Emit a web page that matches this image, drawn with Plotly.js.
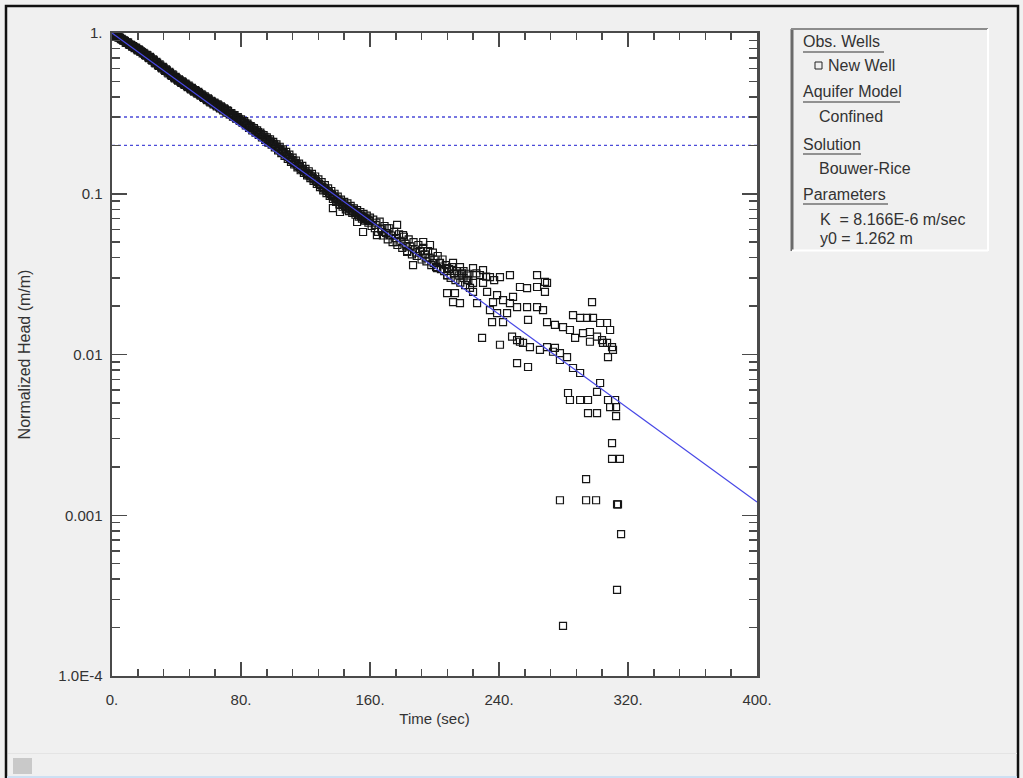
<!DOCTYPE html>
<html>
<head>
<meta charset="utf-8">
<script src="https://cdn.plot.ly/plotly-3.0.1.min.js"></script>
<style>
  html, body { margin: 0; padding: 0; background: #f0f0f0; }
  #chart { width: 1023px; height: 778px; }
</style>
</head>
<body>
<div id="chart"></div>
<script>
// ---------- data ----------
// dense early record (time in sec, normalized head)
const bandTime = [
  0,1,2,3,4,5,6,7,8,9,10,11,12,13,14,15,16,17,18,19,20,
  21,22,23,24,25,26,27,28,29,30,31,32,33,34,35,36,37,38,39,40,
  41,42,43,44,45,46,47,48,49,50,51,52,53,54,55,56,57,58,59,60,
  61,62,63,64,65,66,67,68,69,70,71,72,73,74,75,76,77,78,79,80,
  81,82,83,84,85,86,87,88,89,90,91,92,93,94,95,96,97,98,99,100,
  101,102,103,104,105,106,107,108,109,110,111,112,113,114,115,116,117,118,119,120,
  121,122,123,124,125,126,127,128,129,130,131,132,133,134,135,136,137,138,139,140,
  141,142,143,144,145,146,147,148,149,150,151,152,153,154,155,156,157,158,159,160,
  161,162,163,164,165,166,167,168,169,170,171,172,173,174,175,176,177,178,179,180,
  181,182,183,184,185,186,187,188,189,190,191,192,193,194,195,196,197,198,199,200,201,202,203,204,205,
  206,207,208,209,210,211,212,213,214,215,216,217,218,219,220,221,222
];
const bandHead = [
  1.00,0.99,0.962,0.965,0.935,0.934,0.918,0.895,0.892,0.868,0.87,0.842,0.84,0.828,0.805,0.808,0.78,0.783,0.768,0.746,0.745,
  0.722,0.725,0.698,0.70,0.672,0.675,0.648,0.652,0.625,0.628,0.602,0.606,0.582,0.585,0.56,0.565,0.54,0.545,0.522,0.525,
  0.505,0.508,0.49,0.493,0.475,0.478,0.46,0.462,0.446,0.448,0.432,0.436,0.42,0.423,0.407,0.41,0.395,0.397,0.382,0.386,
  0.37,0.374,0.36,0.364,0.35,0.355,0.34,0.345,0.33,0.335,0.32,0.327,0.312,0.318,0.302,0.309,0.293,0.30,0.286,0.29,
  0.276,0.283,0.266,0.273,0.257,0.264,0.248,0.256,0.24,0.248,0.232,0.24,0.224,0.232,0.216,0.224,0.208,0.218,0.202,0.21,
  0.194,0.203,0.186,0.196,0.179,0.189,0.172,0.182,0.165,0.175,0.158,0.168,0.152,0.161,0.146,0.154,0.14,0.149,0.135,0.143,
  0.13,0.138,0.125,0.133,0.12,0.128,0.115,0.123,0.11,0.118,0.105,0.113,0.101,0.108,0.097,0.104,0.093,0.10,0.089,0.096,
  0.086,0.092,0.083,0.089,0.08,0.087,0.078,0.084,0.076,0.081,0.074,0.079,0.072,0.077,0.07,0.075,0.068,0.073,0.066,0.071,
  0.063,0.069,0.061,0.066,0.058,0.067,0.06,0.055,0.063,0.057,0.052,0.061,0.055,0.05,0.058,0.053,0.048,0.056,0.051,0.046,
  0.054,0.049,0.044,0.052,0.047,0.042,0.05,0.045,0.041,0.048,0.044,0.039,0.046,0.042,0.038,0.044,0.04,0.036,0.043,0.039,0.035,0.041,0.037,0.034,0.039,
  0.033,0.036,0.031,0.034,0.030,0.035,0.032,0.029,0.033,0.031,0.028,0.032,0.030,0.027,0.031,0.029,0.026
];
// readings taken between the whole seconds, and off-trend readings of the band
const halfTime = [
  0.5,1.5,2.5,3.5,4.5,5.5,6.5,7.5,8.5,9.5,10.5,11.5,12.5,13.5,14.5,15.5,16.5,17.5,18.5,19.5,
  20.5,21.5,22.5,23.5,24.5,25.5,26.5,27.5,28.5,29.5,30.5,31.5,32.5,33.5,34.5,35.5,36.5,37.5,38.5,39.5,
  40.5,41.5,42.5,43.5,44.5,45.5,46.5,47.5,48.5,49.5,50.5,51.5,52.5,53.5,54.5,55.5,56.5,57.5,58.5,59.5,
  60.5,61.5,62.5,63.5,64.5,65.5,66.5,67.5,68.5,69.5,70.5,71.5,72.5,73.5,74.5,75.5,76.5,77.5,78.5,79.5,
  80.5,81.5,82.5,83.5,84.5,85.5,86.5,87.5,88.5,89.5,90.5,91.5,92.5,93.5,94.5,95.5,96.5,97.5,98.5,99.5,
  100.5,101.5,102.5,103.5,104.5,105.5,106.5,107.5,108.5,109.5,110.5,111.5,112.5,113.5,114.5,115.5,116.5,117.5,118.5,119.5,
  120.5,121.5,122.5,123.5,124.5,125.5,126.5,127.5,128.5,129.5,130.5,131.5,132.5,133.5,134.5,135.5,136.5,137.5,138.5,139.5,
  140.5,141.5,142.5,143.5,144.5,145.5,146.5,147.5,148.5,149.5,150.5,151.5,152.5,153.5,154.5,155.5,156.5,157.5,158.5,159.5,
  163.5,167.5,171.5,176.5,182.5,188.5,194.5,199.5,
  137,141.4,152,155.7,164.3,170.6,176.8,180.5,183,186.7,197.2,193,201.6,207.8,
  218,221,226,232,237
];
const halfHead = [
  0.985,0.978,0.958,0.946,0.94,0.915,0.905,0.9,0.872,0.875,0.85,0.848,0.822,0.82,0.81,0.79,0.792,0.765,0.762,0.752,
  0.73,0.73,0.705,0.71,0.68,0.685,0.655,0.662,0.632,0.638,0.61,0.615,0.59,0.594,0.568,0.574,0.548,0.554,0.53,0.534,
  0.512,0.514,0.497,0.5,0.482,0.484,0.467,0.47,0.452,0.456,0.438,0.441,0.426,0.43,0.413,0.416,0.4,0.404,0.388,0.392,
  0.376,0.379,0.366,0.369,0.356,0.36,0.346,0.35,0.336,0.34,0.327,0.33,0.318,0.313,0.31,0.304,0.3,0.295,0.292,0.284,
  0.282,0.278,0.274,0.268,0.266,0.26,0.258,0.25,0.25,0.243,0.242,0.235,0.234,0.227,0.226,0.219,0.218,0.212,0.21,0.205,
  0.203,0.197,0.195,0.19,0.187,0.183,0.18,0.176,0.173,0.169,0.166,0.162,0.16,0.155,0.153,0.149,0.147,0.143,0.141,0.138,
  0.135,0.133,0.13,0.128,0.125,0.123,0.12,0.118,0.115,0.113,0.11,0.108,0.106,0.104,0.102,0.0995,0.098,0.096,0.094,0.092,
  0.0905,0.089,0.087,0.086,0.084,0.083,0.082,0.081,0.0795,0.078,0.077,0.076,0.0745,0.0735,0.0725,0.0715,0.0705,0.0695,0.0685,0.0675,
  0.064,0.058,0.056,0.05,0.047,0.043,0.04,0.037,
  0.0815,0.077,0.0667,0.0578,0.0553,0.0612,0.064,0.0553,0.0434,0.036,0.048,0.0501,0.0345,0.0312,
  0.033,0.0318,0.032,0.0305,0.029
];
// late, scattered record
const spreadTime = [
  203.4,211.5,215.8,207.8,223.9,228.2,230.1,234.4,240.6,246.8,263.6,253,257.4,263.6,269.8,220.2,223.9,230.1,
  207.8,212.7,211.5,215.8,226.4,223.9,232.6,238.8,236.3,242.5,246.8,248.7,234.4,238.8,245,251.2,257.4,263.6,267.3,
  235.7,242.5,258,269.8,229.5,240.6,248.1,251.2,254.9,259.2,265.4,
  268.5,268.5,297.7,285.9,290.3,294.6,298.3,302.7,307,308.9,274.7,279.7,284,287.2,292.1,296.4,300.8,303.9,307,
  310.1,310.7,307.6,269.8,273.5,277.8,282.2,
  251.2,258,253,274.7,277.8,285.9,290.3,296.4,304.5,302.7,300.8,282.8,284,290.3,295.2,307.6,312,308.9,312.6,
  295.2,300.8,312.6,310.1,310.1,315,294,277.8,294,300.2,313.2,313.8,315.7,313.2,279.7
];
const spreadHead = [
  0.0371,0.0371,0.035,0.0345,0.0345,0.0312,0.0335,0.0303,0.0303,0.0312,0.0312,0.0263,0.0259,0.0263,0.0279,0.0291,0.0279,0.0279,
  0.0241,0.0241,0.0212,0.0209,0.0209,0.0245,0.0245,0.0234,0.0212,0.0218,0.0209,0.0228,0.0189,0.0181,0.0181,0.0197,0.0197,0.0197,0.0189,
  0.0159,0.0159,0.0164,0.0159,0.0127,0.0115,0.0129,0.0123,0.0118,0.0111,0.0107,
  0.0283,0.0245,0.0212,0.0176,0.0169,0.0169,0.0169,0.0157,0.0157,0.0142,0.0153,0.0148,0.0142,0.0127,0.0136,0.0138,0.0129,0.0123,0.0118,
  0.0111,0.0107,0.00964,0.0111,0.0104,0.0102,0.00964,
  0.00885,0.00836,0.012,0.011,0.00924,0.00824,0.00767,0.012,0.0118,0.00665,0.00585,0.00576,0.00521,0.00521,0.00521,0.00521,0.00521,0.00471,0.00471,
  0.00432,0.00432,0.00414,0.00281,0.00224,0.00224,0.00168,0.00124,0.00124,0.00124,0.00117,0.00117,0.000764,0.000343,0.000205
];
// Bouwer-Rice fitted line (end points)
const fitTime = [0, 400];
const fitHead = [1.0, 0.00121];
// dotted reference lines
const refTime = [0, 400];
const refUpper = [0.3, 0.3];
const refLower = [0.2, 0.2];
// ticks
const xTickVals = [0, 80, 160, 240, 320, 400];
const xTickText = ['0.', '80.', '160.', '240.', '320.', '400.'];
const yTickVals = [1, 0.1, 0.01, 0.001, 0.0001];
const yTickText = ['1.', '0.1', '0.01', '0.001', '1.0E-4'];
// side panel texts
const panelHeaders = ['Obs. Wells', 'Aquifer Model', 'Solution', 'Parameters'];
const panelItems = ['New Well', 'Confined', 'Bouwer-Rice', 'K  = 8.166E-6 m/sec', 'y0 = 1.262 m'];

// ---------- layout helpers (pixel -> paper) ----------
const L = 112, R = 757, T = 33, B = 676;
const X = p => (p - L) / (R - L);
const Y = p => (B - p) / (B - T);
const FONT = 'Liberation Sans, Arial, Helvetica, sans-serif';
const TXT = '#333333';

const obsTime = bandTime.concat(halfTime, spreadTime);
const obsHead = bandHead.concat(halfHead, spreadHead);

const traces = [
  { x: refTime, y: refUpper, mode: 'lines', line: { color: '#4b4bd8', width: 1.4, dash: 'dot' }, hoverinfo: 'skip', showlegend: false },
  { x: refTime, y: refLower, mode: 'lines', line: { color: '#4b4bd8', width: 1.4, dash: 'dot' }, hoverinfo: 'skip', showlegend: false },
  { x: obsTime, y: obsHead, mode: 'markers', name: 'New Well',
    marker: { symbol: 'square-open', size: 7, color: '#151515', line: { width: 1.2, color: '#151515' } }, showlegend: false },
  { x: fitTime, y: fitHead, mode: 'lines', line: { color: '#4848e6', width: 1.2 }, showlegend: false }
];

function line(x0, y0, x1, y1, color, width) {
  return { type: 'line', xref: 'paper', yref: 'paper', x0: X(x0), y0: Y(y0), x1: X(x1), y1: Y(y1),
           line: { color: color, width: width } };
}

const shapes = [
  // outer window frame
  { type: 'rect', xref: 'paper', yref: 'paper', x0: X(6), x1: X(1018), y0: Y(6), y1: Y(800),
    line: { color: '#111', width: 2.5 }, fillcolor: 'rgba(0,0,0,0)' },
  // status bar
  line(8, 753.5, 1017, 753.5, '#e4e4e4', 1),
  { type: 'rect', xref: 'paper', yref: 'paper', x0: X(13), x1: X(32), y0: Y(758), y1: Y(774),
    line: { width: 0 }, fillcolor: '#c9c9c9' },
  { type: 'rect', xref: 'paper', yref: 'paper', x0: X(7), x1: X(1017), y0: Y(776), y1: Y(779),
    line: { width: 0 }, fillcolor: '#cde0f3' },
  // side panel box
  line(792, 29, 792, 251, '#6a6a6a', 3),
  line(791, 29, 988, 29, '#8c8c8c', 2),
  line(988, 29, 988, 251, '#ffffff', 2),
  line(792, 250.5, 988, 250.5, '#ffffff', 2),
  // header underlines
  line(803, 52, 884, 52, TXT, 1),
  line(803, 102, 900, 102, TXT, 1),
  line(803, 154, 861, 154, TXT, 1),
  line(803, 204, 888, 204, TXT, 1),
  // legend symbol for the observation well
  { type: 'rect', xref: 'paper', yref: 'paper', x0: X(815), x1: X(822), y0: Y(62), y1: Y(69),
    line: { color: '#222', width: 1 }, fillcolor: 'rgba(0,0,0,0)' }
];

function note(text, px, py) {
  return { text: text, xref: 'paper', yref: 'paper', x: X(px), y: Y(py), xanchor: 'left', yanchor: 'middle',
           showarrow: false, font: { family: FONT, size: 16, color: TXT } };
}
const annotations = [
  note(panelHeaders[0], 801, 42),
  note(panelItems[0], 826, 66),
  note(panelHeaders[1], 801, 92),
  note(panelItems[1], 817, 117),
  note(panelHeaders[2], 801, 144),
  note(panelItems[2], 817, 168),
  note(panelHeaders[3], 801, 194),
  note(panelItems[3], 818, 219),
  note(panelItems[4], 818, 238)
];

const layout = {
  width: 1023, height: 778,
  margin: { l: L, r: 1023 - R, t: T, b: 778 - B, pad: 0 },
  paper_bgcolor: '#f0f0f0', plot_bgcolor: '#ffffff',
  showlegend: false,
  font: { family: FONT, color: TXT },
  xaxis: {
    type: 'linear', range: [0, 400], autorange: false,
    tickmode: 'array', tickvals: xTickVals, ticktext: xTickText,
    ticks: 'inside', ticklen: 14, tickwidth: 1.5, tickcolor: '#4a4a4a',
    minor: { dtick: 16, ticks: 'inside', ticklen: 7, tickwidth: 1.5, tickcolor: '#4a4a4a', showgrid: false },
    showline: true, linecolor: '#4a4a4a', linewidth: 2, mirror: 'ticks',
    showgrid: false, zeroline: false,
    ticklabelstandoff: 9,
    tickfont: { family: FONT, size: 15, color: TXT },
    title: { text: 'Time (sec)', font: { family: FONT, size: 15, color: TXT }, standoff: 6 }
  },
  yaxis: {
    type: 'log', range: [-4, 0], autorange: false,
    tickmode: 'array', tickvals: yTickVals, ticktext: yTickText,
    ticks: 'inside', ticklen: 15, tickwidth: 1.5, tickcolor: '#4a4a4a',
    minor: { dtick: 'D1', ticks: 'inside', ticklen: 8, tickwidth: 1.5, tickcolor: '#4a4a4a', showgrid: false },
    showline: true, linecolor: '#4a4a4a', linewidth: 2.5, mirror: 'ticks',
    showgrid: false, zeroline: false,
    ticklabelstandoff: 4,
    tickfont: { family: FONT, size: 15, color: TXT },
    title: { text: 'Normalized Head (m/m)', font: { family: FONT, size: 16, color: TXT }, standoff: 24 }
  },
  shapes: shapes,
  annotations: annotations
};

Plotly.newPlot('chart', traces, layout, { displayModeBar: false, staticPlot: true });
</script>
</body>
</html>
